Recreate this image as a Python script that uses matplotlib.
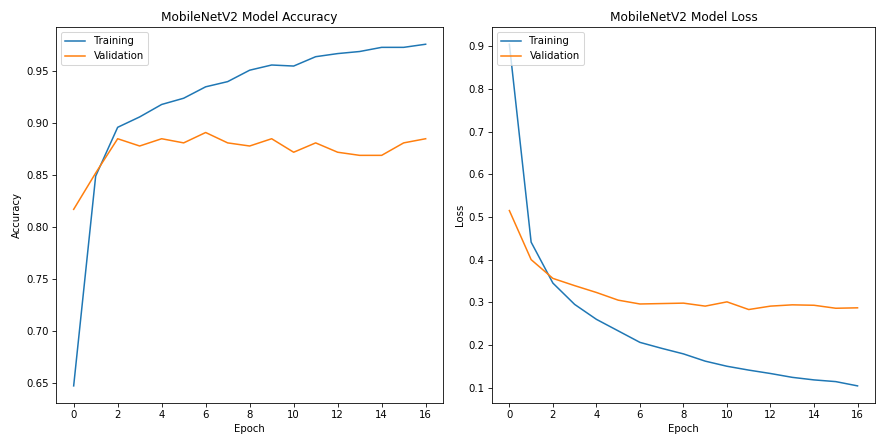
import matplotlib
matplotlib.use('Agg')
import matplotlib.pyplot as plt

epochs = list(range(17))

train_acc = [0.647, 0.849, 0.896, 0.906, 0.918, 0.924, 0.935, 0.940, 0.951, 0.956,
             0.955, 0.964, 0.967, 0.969, 0.973, 0.973, 0.976]
val_acc = [0.817, 0.852, 0.885, 0.878, 0.885, 0.881, 0.891, 0.881, 0.878, 0.885,
           0.872, 0.881, 0.872, 0.869, 0.869, 0.881, 0.885]

train_loss = [0.905, 0.441, 0.345, 0.295, 0.260, 0.233, 0.206, 0.192, 0.179, 0.162,
              0.150, 0.141, 0.133, 0.124, 0.118, 0.114, 0.104]
val_loss = [0.515, 0.400, 0.356, 0.339, 0.323, 0.305, 0.296, 0.297, 0.298, 0.291,
            0.301, 0.283, 0.291, 0.294, 0.293, 0.286, 0.287]

fig = plt.figure(figsize=(12, 6), dpi=73)
ax1 = fig.add_axes([0.064, 0.080, 0.442, 0.858])
ax2 = fig.add_axes([0.5616, 0.080, 0.4372, 0.858])

ax1.plot(epochs, train_acc, label='Training')
ax1.plot(epochs, val_acc, label='Validation')
ax1.set_title('MobileNetV2 Model Accuracy')
ax1.set_xlabel('Epoch')
ax1.set_ylabel('Accuracy')
ax1.legend(loc='upper left')

ax2.plot(epochs, train_loss, label='Training')
ax2.plot(epochs, val_loss, label='Validation')
ax2.set_title('MobileNetV2 Model Loss')
ax2.set_xlabel('Epoch')
ax2.set_ylabel('Loss')
ax2.legend(loc='upper left')

for ax in (ax1, ax2):
    ax.set_xticks(range(0, 17, 2))

fig.savefig('out.png', dpi=73)
